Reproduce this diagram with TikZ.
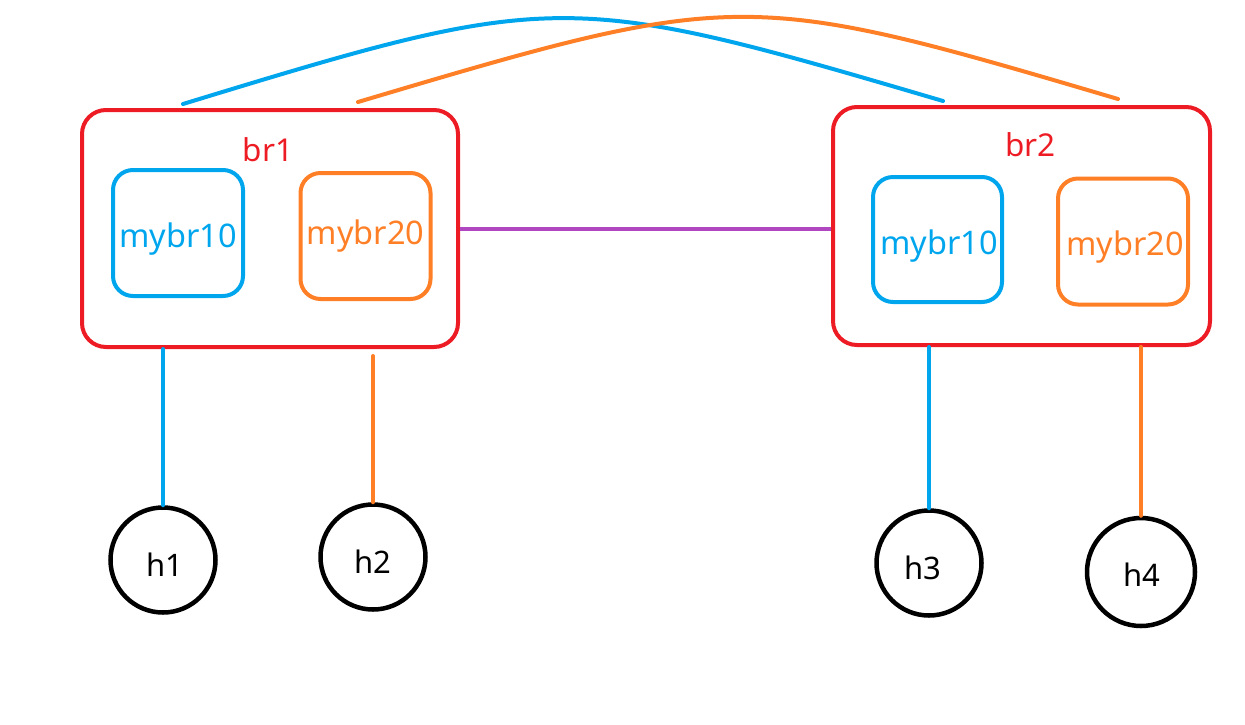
\documentclass[tikz,border=0pt]{standalone}
\usepackage{fontspec}
\setmainfont{Noto Sans}
\usetikzlibrary{calc}
\definecolor{cred}{RGB}{237,28,36}
\definecolor{cblue}{RGB}{0,166,237}
\definecolor{corange}{RGB}{255,127,39}
\definecolor{cpurple}{RGB}{176,70,192}
\tikzset{
  brbox/.style={draw=cred, line width=4pt, rounded corners=24pt, inner sep=0pt},
  vbox/.style={line width=4pt, rounded corners=20pt, inner sep=0pt, minimum width=130pt, minimum height=126pt},
  bluebox/.style={vbox, draw=cblue},
  orangebox/.style={vbox, draw=corange},
  vtext/.style={inner sep=0pt, font=\fontsize{32.5}{38}\selectfont},
  brlabel/.style={text=cred, font=\fontsize{31.5}{36}\selectfont, inner sep=0pt},
  host/.style={circle, draw=black, line width=4.5pt, minimum size=105pt, inner sep=0pt},
  htext/.style={inner sep=0pt, font=\fontsize{31}{36}\selectfont},
  bluewire/.style={draw=cblue, line width=4pt, line cap=round},
  orangewire/.style={draw=corange, line width=4pt, line cap=round},
  purplewire/.style={draw=cpurple, line width=4pt},
}
\begin{document}
\begin{tikzpicture}[x=1pt,y=-1pt]
\useasboundingbox (0,0) rectangle (1245,724);
% bridges
\node[brbox, minimum width=376pt, minimum height=237pt] (br1) at (270,228.5) {};
\node[brbox, minimum width=377pt, minimum height=238pt] (br2) at (1021.5,226) {};
\node[brlabel] (br1t) at (268,149.5) {br1};
\node[brlabel] (br2t) at (1030.5,144.5) {br2};
\node[bluebox] (b1v10) at (178,233) {};
\node[orangebox] (b1v20) at (365.5,236) {};
\node[bluebox, minimum width=129pt, minimum height=125pt] (b2v10) at (937.5,239.5) {};
\node[orangebox] (b2v20) at (1123,241.5) {};
\node[vtext, text=cblue] (t1) at (178,239.5) {mybr10};
\node[vtext, text=corange] (t2) at (365.5,236.5) {mybr20};
\node[vtext, text=cblue] (t3) at (939,246.5) {mybr10};
\node[vtext, text=corange] (t4) at (1125,247.5) {mybr20};
% hosts
\node[host] (h1) at (163,560) {};
\node[host] (h2) at (373,557) {};
\node[host] (h3) at (929,563) {};
\node[host, minimum size=108pt] (h4) at (1141,572) {};
\node[htext] (h1t) at (164.5,565) {h1};
\node[htext] (h2t) at (373,561.5) {h2};
\node[htext] (h3t) at (923,568) {h3};
\node[htext] (h4t) at (1141.5,575) {h4};
% link between bridges
\draw[purplewire] (br1.east) -- (br1.east -| br2.west);
% host links
\draw[bluewire] (h1.north) -- (h1.north |- br1.south);
\draw[orangewire] (h2.north) -- ($(h2.north |- br1.south)+(0,7)$);
\draw[bluewire] (h3.north) -- (h3.north |- br2.south);
\draw[orangewire] (h4.north) -- (h4.north |- br2.south);
% arcs
\coordinate (a1s) at (183,104);
\coordinate (a1e) at (943,101);
\coordinate (a2s) at (358,102);
\coordinate (a2e) at (1118,99);
\draw[bluewire] (a1s) .. controls (556,-10) and (566,-10) .. (a1e);
\draw[orangewire] (a2s) .. controls (738,-11) and (746,-11) .. (a2e);
\end{tikzpicture}
\end{document}
